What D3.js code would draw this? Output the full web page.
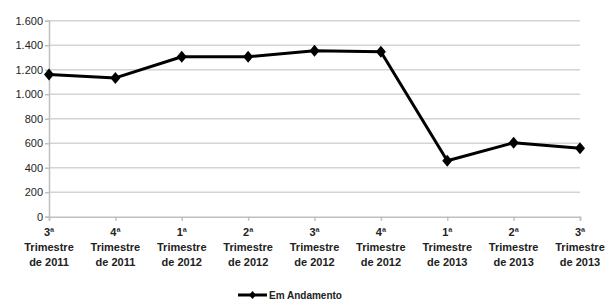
<!DOCTYPE html>
<html>
<head>
<meta charset="utf-8">
<script src="https://cdn.jsdelivr.net/npm/d3@7"></script>
<style>
  body { margin: 0; background: #fff; }
  svg { display: block; font-family: "Liberation Sans", Arial, sans-serif; }
</style>
</head>
<body>
<svg id="chart" width="607" height="301"></svg>
<script>
const quarters = ['3ª', '4ª', '1ª', '2ª', '3ª', '4ª', '1ª', '2ª', '3ª'];
const years = ['2011', '2011', '2012', '2012', '2012', '2012', '2013', '2013', '2013'];
const emAndamento = [1160, 1133, 1306, 1306, 1355, 1347, 457, 604, 558];
const yTicks = [0, 200, 400, 600, 800, 1000, 1200, 1400, 1600];
const seriesName = 'Em Andamento';

const svg = d3.select('#chart');
const margin = { top: 20.7, left: 49, right: 27, bottom: 84.3 };
const width = 607 - margin.left - margin.right;
const height = 301 - margin.top - margin.bottom;

const idx = d3.range(quarters.length);
const x = d3.scalePoint().domain(idx).range([0, width]);
const y = d3.scaleLinear().domain([0, 1600]).range([height, 0]);

// diamond marker, a bit wider than d3's symbolDiamond
const diamondPath = (w, h) => `M0,${-h}L${w},0L0,${h}L${-w},0Z`;

const g = svg.append('g')
  .attr('transform', `translate(${margin.left}, ${margin.top})`);

// gridlines
g.append('g')
  .selectAll('line')
  .data(yTicks.filter(d => d > 0))
  .enter()
  .append('line')
  .attr('x1', 0)
  .attr('x2', width)
  .attr('y1', d => y(d))
  .attr('y2', d => y(d))
  .attr('stroke', '#d4d4d4')
  .attr('stroke-width', 1.5);

// y axis
const yAxis = g.append('g')
  .call(d3.axisLeft(y).tickValues(yTicks).tickSize(4)
    .tickFormat(d => d3.format(',')(d).replace(/,/g, '.')));
yAxis.select('.domain').attr('stroke', '#bfbfbf').attr('stroke-width', 1.5);
yAxis.selectAll('.tick line').attr('stroke', '#bfbfbf').attr('stroke-width', 1.5);
yAxis.selectAll('.tick text')
  .attr('x', -6)
  .style('font-size', '11px')
  .attr('fill', '#222');

// x axis
const xAxis = g.append('g')
  .attr('transform', `translate(0, ${height})`)
  .call(d3.axisBottom(x).tickSizeOuter(0).tickSize(4).tickFormat(''));
xAxis.select('.domain').attr('stroke', '#bfbfbf').attr('stroke-width', 1.5);
xAxis.selectAll('.tick line').attr('stroke', '#bfbfbf').attr('stroke-width', 1.5);

const labels = g.append('g')
  .selectAll('text.x-label')
  .data(idx)
  .enter()
  .append('text')
  .attr('class', 'x-label')
  .attr('text-anchor', 'middle')
  .attr('transform', d => `translate(${x(d)}, ${height + 19})`)
  .style('font-size', '11px')
  .style('font-weight', 'bold')
  .attr('fill', '#222');

labels.append('tspan').attr('x', 0).attr('dy', 0).text(d => quarters[d]);
labels.append('tspan').attr('x', 0).attr('dy', 15).text('Trimestre');
labels.append('tspan').attr('x', 0).attr('dy', 15).text(d => 'de ' + years[d]);

// line
const line = d3.line()
  .x((d, i) => x(i))
  .y(d => y(d));

g.append('path')
  .datum(emAndamento)
  .attr('d', line)
  .attr('fill', 'none')
  .attr('stroke', '#000')
  .attr('stroke-width', 3)
  .attr('stroke-linejoin', 'round');

g.selectAll('path.marker')
  .data(emAndamento)
  .enter()
  .append('path')
  .attr('class', 'marker')
  .attr('d', diamondPath(5, 6))
  .attr('transform', (d, i) => `translate(${x(i)}, ${y(d)})`)
  .attr('fill', '#000');

// legend
const legend = svg.append('g').attr('transform', 'translate(238, 295)');
legend.append('line')
  .attr('x1', 0).attr('x2', 29)
  .attr('stroke', '#000').attr('stroke-width', 3);
legend.append('path')
  .attr('d', diamondPath(3.5, 4))
  .attr('transform', 'translate(14.5, 0)')
  .attr('fill', '#000');
legend.append('text')
  .attr('x', 31)
  .attr('y', 0)
  .attr('dy', '0.35em')
  .style('font-size', '10px')
  .style('font-weight', 'bold')
  .attr('fill', '#222')
  .text(seriesName);
</script>
</body>
</html>
